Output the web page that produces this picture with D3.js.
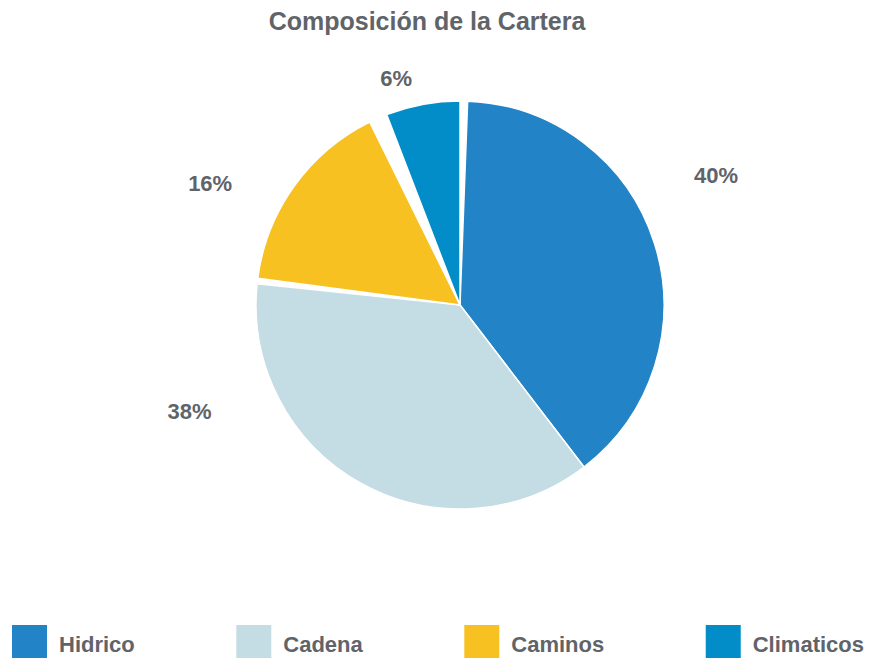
<!DOCTYPE html>
<html>
<head>
<meta charset="utf-8">
<script src="https://cdn.jsdelivr.net/npm/d3@7"></script>
<style>
  html, body { margin: 0; padding: 0; background: #fff; }
  svg { display: block; font-family: "Helvetica Neue", Helvetica, "Liberation Sans", Arial, sans-serif; }
</style>
</head>
<body>
<svg id="chart" width="872" height="658"></svg>
<script>
// Portfolio composition (percent)
const categories = ["Hidrico", "Cadena", "Caminos", "Climaticos"];
const values = [40, 38, 16, 6];
const colors = ["#2283C7", "#C4DDE5", "#F7C122", "#028CC8"];
const title = "Composición de la Cartera";

// Layout
const W = 872, H = 658;
const cx = 460, cy = 305, radius = 204;
const deg = Math.PI / 180;
const startAngle = 2.15 * deg;          // first slice begins just right of 12 o'clock
const gapsAfter = [0, 1.6, 5.2, 2.15];  // white separation after each slice (degrees)
// label anchor for each slice: [angle in degrees, distance from centre]
const labelAnchors = [[63.1, 287], [248.6, 290.5], [296, 278], [344.3, 236]];
const textColor = "#606469";

const svg = d3.select("#chart");

svg.append("text")
  .attr("x", 427).attr("y", 30)
  .attr("text-anchor", "middle")
  .attr("font-size", 25).attr("font-weight", "bold")
  .attr("fill", textColor)
  .text(title);

// Slice spans proportional to the values over the circle minus the gaps
const totalGap = d3.sum(gapsAfter) * deg;
const basePie = d3.pie().sort(null).startAngle(0).endAngle(2 * Math.PI - totalGap)(values);
let offset = startAngle;
const slices = basePie.map((p, i) => {
  const s = { data: p.data, index: i, startAngle: p.startAngle + offset, endAngle: p.endAngle + offset };
  offset += gapsAfter[i] * deg;
  return s;
});

const arc = d3.arc().innerRadius(0).outerRadius(radius);
const g = svg.append("g").attr("transform", `translate(${cx},${cy})`);

g.selectAll("path.slice")
  .data(slices)
  .join("path")
  .attr("class", "slice")
  .attr("d", arc)
  .attr("fill", d => colors[d.index])
  .attr("stroke", "#fff")
  .attr("stroke-width", 1.5)
  .attr("stroke-linejoin", "round");

g.selectAll("text.pct")
  .data(slices)
  .join("text")
  .attr("class", "pct")
  .attr("x", d => Math.sin(labelAnchors[d.index][0] * deg) * labelAnchors[d.index][1])
  .attr("y", d => -Math.cos(labelAnchors[d.index][0] * deg) * labelAnchors[d.index][1])
  .attr("dy", "0.35em")
  .attr("text-anchor", "middle")
  .attr("font-size", 22).attr("font-weight", "bold")
  .attr("fill", textColor)
  .text(d => d.data + "%");

// Legend spread across the bottom edge
const legendLeft = 12, legendRight = 864, legendTop = 625, sw = 35, sh = 34, textGap = 12;
const legend = svg.append("g");
const items = legend.selectAll("g.item")
  .data(categories)
  .join("g")
  .attr("class", "item");
items.append("rect")
  .attr("width", sw).attr("height", sh)
  .attr("fill", (d, i) => colors[i]);
items.append("text")
  .attr("x", sw + textGap).attr("y", 27)
  .attr("font-size", 22).attr("font-weight", "bold")
  .attr("fill", textColor)
  .text(d => d);
const widths = [];
items.each(function () { widths.push(sw + textGap + d3.select(this).select("text").node().getComputedTextLength()); });
const spare = (legendRight - legendLeft - d3.sum(widths)) / (categories.length - 1);
let lx = legendLeft;
items.attr("transform", (d, i) => { const t = `translate(${lx},${legendTop})`; lx += widths[i] + spare; return t; });
</script>
</body>
</html>
